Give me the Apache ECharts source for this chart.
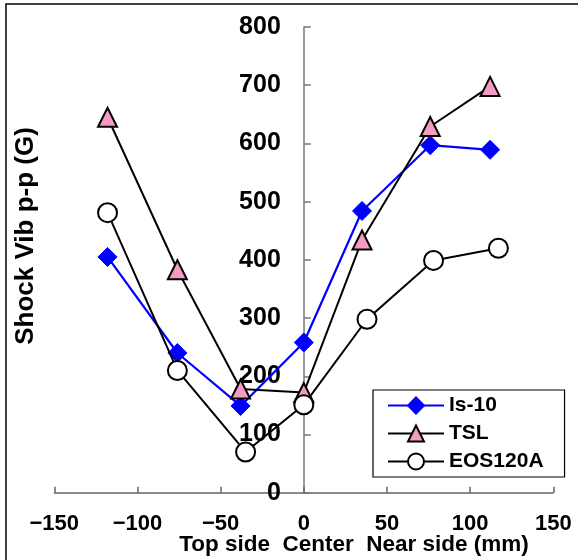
<!DOCTYPE html>
<html>
<head>
<meta charset="utf-8">
<script src="https://cdn.jsdelivr.net/npm/echarts@6/dist/echarts.min.js"></script>
<style>
html,body{margin:0;padding:0;background:#fff;}
#chart{width:578px;height:560px;}
</style>
</head>
<body>
<div id="chart"></div>
<script>
// Data
const seriesNames = ['Is-10', 'TSL', 'EOS120A'];
const is10X = [-118, -76, -38, 0, 35, 76, 112];
const is10Y = [405, 240, 149, 258, 484, 597, 589];
const tslX = [-118, -76, -38, 0, 35, 76, 112];
const tslY = [645, 383, 178, 172, 434, 629, 698];
const eosX = [-118, -76, -35, 0, 38, 78, 117];
const eosY = [481, 210, 70, 151, 298, 399, 420];
const xTicks = [-150, -100, -50, 0, 50, 100, 150];
const yTicks = [0, 100, 200, 300, 400, 500, 600, 700, 800];
const yTitle = 'Shock Vib p-p (G)';
const xTitle = 'Top side  Center  Near side (mm)';

const pair = (xs, ys) => xs.map((x, i) => [x, ys[i]]);
const FONT = '"Liberation Sans", Arial, sans-serif';

const W = 578, gridLeft = 54.3, gridRight = 24.7;
const xMin = xTicks[0], xMax = xTicks[xTicks.length - 1];
// shift y axis so that it sits at x = 0 (labels included)
const yAxisShift = (0 - xMin) / (xMax - xMin) * (W - gridLeft - gridRight);

const chart = echarts.init(document.getElementById('chart'), null, {renderer: 'canvas'});
chart.setOption({
  animation: false,
  backgroundColor: '#fff',
  grid: {left: gridLeft, right: gridRight, top: 27, bottom: 67.3, containLabel: false, outerBoundsMode: 'none'},
  xAxis: {
    type: 'value', min: xMin, max: xMax, interval: 50,
    splitLine: {show: false},
    axisLine: {onZero: false, lineStyle: {color: '#666', width: 1.5}},
    axisTick: {inside: true, length: 6, lineStyle: {color: '#666', width: 1.5}},
    axisLabel: {color: '#000', fontFamily: FONT, fontWeight: 'bold', fontSize: 22, margin: 20,
      formatter: v => (v < 0 ? '\u2212' + Math.abs(v) : String(v))}
  },
  yAxis: {
    type: 'value', min: yTicks[0], max: yTicks[yTicks.length - 1], interval: 100,
    position: 'left', offset: -yAxisShift,
    splitLine: {show: false},
    axisLine: {onZero: false, lineStyle: {color: '#777', width: 1.5}},
    axisTick: {inside: true, length: 7, lineStyle: {color: '#777', width: 1.5}},
    axisLabel: {color: '#000', fontFamily: FONT, fontWeight: 'bold', fontSize: 25, margin: 23}
  },
  legend: {
    left: 373, top: 390, orient: 'vertical',
    data: seriesNames,
    itemWidth: 56, itemHeight: 20, itemGap: 7,
    padding: [5, 21, 5, 14],
    borderColor: '#000', borderWidth: 1.2, borderRadius: 0,
    backgroundColor: '#fff',
    textStyle: {color: '#000', fontFamily: FONT, fontWeight: 'bold', fontSize: 21, lineHeight: 20}
  },
  graphic: [
    {type: 'rect', shape: {x: 6, y: 4, width: 620, height: 620}, style: {fill: 'none', stroke: '#000', lineWidth: 1.5}, silent: true, z: 100},
    {type: 'text', x: 26, y: 236, rotation: Math.PI / 2,
      style: {text: yTitle, fill: '#000', font: 'bold 26px ' + FONT, textAlign: 'center', textVerticalAlign: 'middle'}},
    {type: 'text', x: 354, y: 545,
      style: {text: xTitle, fill: '#000', font: 'bold 22.5px ' + FONT, textAlign: 'center', textVerticalAlign: 'middle'}}
  ],
  series: [
    {name: seriesNames[0], type: 'line', data: pair(is10X, is10Y), symbol: 'diamond', symbolSize: 19,
      lineStyle: {color: '#0000ff', width: 2.2}, itemStyle: {color: '#0000ff', borderColor: '#0000ff', borderWidth: 1}, z: 2},
    {name: seriesNames[1], type: 'line', data: pair(tslX, tslY), symbol: 'triangle', symbolSize: 19,
      lineStyle: {color: '#000', width: 2}, itemStyle: {color: '#f59ac4', borderColor: '#000', borderWidth: 2}, z: 3},
    {name: seriesNames[2], type: 'line', data: pair(eosX, eosY), symbol: 'circle', symbolSize: 19,
      lineStyle: {color: '#000', width: 2}, itemStyle: {color: '#fff', borderColor: '#000', borderWidth: 2}, z: 4}
  ]
});
</script>
</body>
</html>
